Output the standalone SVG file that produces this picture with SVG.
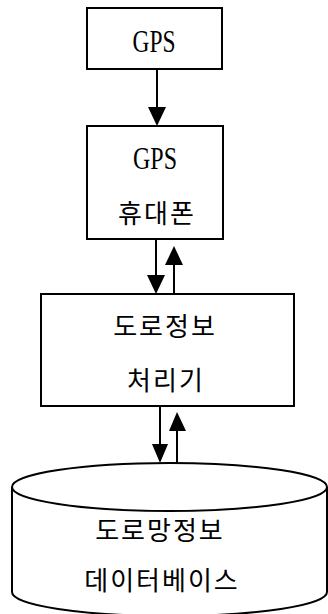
<svg xmlns="http://www.w3.org/2000/svg" width="328" height="614" viewBox="0 0 328 614">
<style>
.box{fill:#fff;stroke:#000;stroke-width:2}
.en{font-family:"Liberation Serif","DejaVu Serif",serif;font-size:31px;fill:#000}
.ko{font-family:"Noto Sans CJK KR","Noto Sans",sans-serif;font-size:26px;letter-spacing:2px;fill:#000}
.ln{stroke:#000;stroke-width:2;fill:none}
.hd{fill:#000}
</style>
<rect width="328" height="614" fill="#fff"/>
<g id="gps">
<rect class="box" x="87" y="8" width="135" height="61"/>
<text class="en" x="154" y="52" text-anchor="middle" textLength="43" lengthAdjust="spacingAndGlyphs">GPS</text>
</g>
<g id="phone">
<rect class="box" x="87" y="126" width="136" height="113"/>
<text class="en" x="155" y="169" text-anchor="middle" textLength="44" lengthAdjust="spacingAndGlyphs">GPS</text>
<text class="ko" x="157" y="223" text-anchor="middle">휴대폰</text>
</g>
<g id="processor">
<rect class="box" x="41" y="294" width="253" height="112"/>
<text class="ko" x="165" y="336" text-anchor="middle">도로정보</text>
<text class="ko" x="166" y="390" text-anchor="middle">처리기</text>
</g>
<g id="database">
<path class="box" d="M12,487 L12,592 A157.5,24 0 0 0 327,592 L327,487"/>
<ellipse class="box" cx="169.5" cy="487" rx="157.5" ry="24"/>
<text class="ko" x="160" y="540" text-anchor="middle">도로망정보</text>
<text class="ko" x="162" y="590" text-anchor="middle">데이터베이스</text>
</g>
<g id="connectors">
<line class="ln" x1="157" y1="69" x2="157" y2="110"/>
<polygon class="hd" points="148,107 166,107 157,126"/>
<line class="ln" x1="156" y1="239" x2="156" y2="278"/>
<polygon class="hd" points="147,275 165,275 156,294"/>
<line class="ln" x1="174" y1="262" x2="174" y2="294"/>
<polygon class="hd" points="165,265 183,265 174,246"/>
<line class="ln" x1="160" y1="406" x2="160" y2="447"/>
<polygon class="hd" points="152,444 168,444 160,463"/>
<line class="ln" x1="177" y1="428" x2="177" y2="463"/>
<polygon class="hd" points="169,431 186,431 177,412"/>
</g>
</svg>
